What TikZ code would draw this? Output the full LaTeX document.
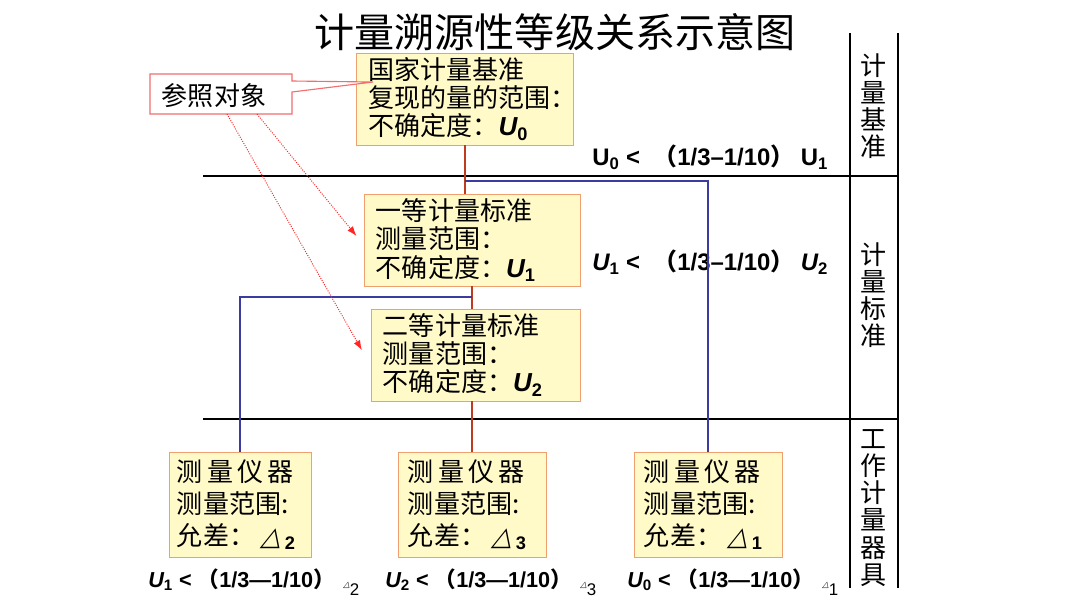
\documentclass[tikz,border=0pt]{standalone}
\usepackage{fontspec}
\setmainfont{Liberation Sans}
\newfontfamily\cjk{Noto Sans CJK SC}
\newfontfamily\trifont[FakeSlant=0.3]{DejaVu Sans}
\usetikzlibrary{arrows.meta,positioning}

\definecolor{boxfill}{RGB}{255,250,200}
\definecolor{boxedge}{RGB}{240,160,110}
\definecolor{linkred}{RGB}{190,60,30}
\definecolor{linkblue}{RGB}{60,60,160}
\definecolor{notered}{RGB}{240,110,110}

\newcommand{\boxfont}{\cjk\fontsize{18.5}{20}\selectfont}
\newcommand{\instfont}{\cjk\fontsize{18.5}{22.8}\selectfont}
\newcommand{\Uit}[1]{{\normalfont\bfseries\itshape U\textsubscript{\upshape #1}}}
\newcommand{\Uup}[1]{{\normalfont\bfseries U\textsubscript{#1}}}
\newcommand{\tol}[1]{\hspace{4pt}{\trifont △}\kern3pt\textsubscript{\normalfont\bfseries #1}}
\newcommand{\smalltol}[1]{{\trifont\fontsize{6}{6}\selectfont △}\raisebox{-6pt}{\normalfont\fontsize{12}{12}\selectfont #1}}
\newcommand{\lp}{{\cjk\bfseries （}}
\newcommand{\rp}{{\cjk\bfseries ）}}

\begin{document}
\begin{tikzpicture}[x=0.025cm,y=-0.025cm,
  stdbox/.style={draw=boxedge,fill=boxfill,align=left,inner xsep=0.3cm,font=\boxfont,minimum height=2.25cm},
  instbox/.style={stdbox,font=\instfont,minimum height=2.625cm,text width=3.2cm,inner xsep=0.25cm},
  redlink/.style={draw=linkred,line width=1.2pt},
  bluelink/.style={draw=linkblue,line width=1pt},
  gridline/.style={line width=0.8pt},
  refarrow/.style={red!85,densely dotted,line width=0.7pt,-{Latex[length=7pt,width=5pt]}},
  sidetext/.style={font=\cjk\fontsize{18.5}{19.3}\selectfont,align=center,inner sep=0pt},
  ratio/.style={anchor=west,font=\fontsize{17}{17}\selectfont\bfseries,inner sep=0pt},
  lowratio/.style={ratio,font=\fontsize{15.4}{15.4}\selectfont\bfseries}]
  \useasboundingbox (0,0) rectangle (1080,608);

  \node[font=\cjk\fontsize{28.5}{30}\selectfont] (title) at (555,32) {计量溯源性等级关系示意图};

  % level grid
  \draw[gridline] (850,33) -- (850,588);
  \draw[gridline] (898,33) -- (898,588);
  \draw[gridline] (203,176) -- (898,176);
  \draw[gridline] (203,419) -- (898,419);
  \node[sidetext] (lvl0) at (873,106) {计\\量\\基\\准};
  \node[sidetext] (lvl1) at (873,295) {计\\量\\标\\准};
  \node[sidetext] (lvl2) at (873,508) {工\\作\\计\\量\\器\\具};

  % ratios
  \node[ratio] (r0) at (592,157) {\Uup{0} <\ \ \lp 1/3–1/10\rp\ \Uup{1}};
  \node[ratio] (r1) at (592,262) {\Uit{1} <\ \ \lp 1/3–1/10\rp\ \Uit{2}};
  \node[lowratio] (r2) at (148,582) {\Uit{1} <\ \lp 1/3—1/10\rp\hspace{6pt}\smalltol{2}};
  \node[lowratio] (r3) at (385,582) {\Uit{2} <\ \lp 1/3—1/10\rp\hspace{6pt}\smalltol{3}};
  \node[lowratio] (r4) at (627,582) {\Uit{0} <\ \lp 1/3—1/10\rp\hspace{6pt}\smalltol{1}};

  % standards
  \node[stdbox,text width=4.825cm] (nat) at (465,99) {国家计量基准\\复现的量的范围：\\不确定度：\Uit{0}};
  \node[stdbox,text width=4.8cm] (std1) at (472,240) {一等计量标准\\测量范围：\\不确定度：\Uit{1}};
  \node[stdbox,text width=4.625cm] (std2) at (475.5,355) {二等计量标准\\测量范围：\\不确定度：\Uit{2}};

  % instruments
  \node[instbox,text width=3.15cm,inner xsep=0.2cm] (instA) at (240,504.5) {测\hspace{3pt}量\hspace{3pt}仪\hspace{3pt}器\\测量范围:\\允差：\tol{2}};
  \node[instbox] (instB) at (472,504.5) {测\hspace{3pt}量\hspace{3pt}仪\hspace{3pt}器\\测量范围:\\允差：\tol{3}};
  \node[instbox] (instC) at (708,504.5) {测\hspace{3pt}量\hspace{3pt}仪\hspace{3pt}器\\测量范围:\\允差：\tol{1}};

  % traceability links
  \coordinate (tap0) at (465,181);
  \coordinate (tap1) at (472,297);
  \draw[redlink] (nat.south) -- (nat.south |- std1.north);
  \draw[bluelink] (tap0) -| (instC.north);
  \draw[redlink] (std1.south) -- (std1.south |- std2.north);
  \draw[bluelink] (tap1) -| (instA.north);
  \draw[redlink] (instB.north |- std2.south) -- (instB.north);

  % reference note
  \draw[notered,fill=white,line width=0.8pt] (150,74) -- (292,74) -- (292,81) -- (373,82)
        -- (292,92) -- (292,114) -- (150,114) -- cycle;
  \node[font=\boxfont] (note) at (214,96) {参照对象};
  \coordinate (noteA) at (227,114);
  \coordinate (noteB) at (257,114);
  \draw[refarrow] (noteB) -- ([xshift=-0.18cm,yshift=0.1cm]std1.west);
  \draw[refarrow] (noteA) -- ([xshift=-0.22cm,yshift=0.12cm]std2.west);
\end{tikzpicture}
\end{document}
